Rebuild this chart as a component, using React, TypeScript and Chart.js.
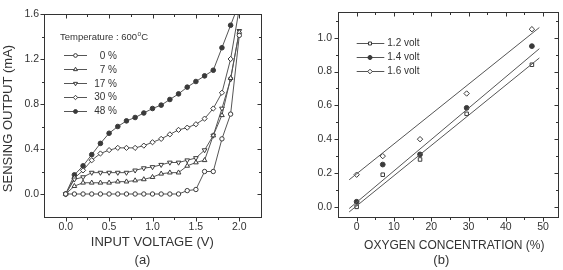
import React, { useEffect, useRef } from "react";
import { Chart, registerables } from "chart.js";
import { drawPoint } from "chart.js/helpers";
Chart.register(...registerables);

// ---------- (a) data ----------
const voltage = [0, 0.1, 0.2, 0.3, 0.4, 0.5, 0.6, 0.7, 0.8, 0.9, 1.0, 1.1, 1.2, 1.3, 1.4, 1.5, 1.6, 1.7, 1.8, 1.9, 2.0];
const o2_0 = [0, 0, 0, 0, 0, 0, 0, 0, 0, 0, 0, 0, 0, 0, 0.03, 0.04, 0.2, 0.2, 0.49, 0.71, 1.41];
const o2_7 = [0, 0.07, 0.1, 0.1, 0.1, 0.1, 0.11, 0.11, 0.12, 0.13, 0.15, 0.18, 0.19, 0.19, 0.25, 0.28, 0.3, 0.52, 0.7, 1.03, 1.44];
const o2_17 = [0, 0.13, 0.15, 0.19, 0.19, 0.19, 0.19, 0.19, 0.21, 0.23, 0.24, 0.26, 0.28, 0.28, 0.3, 0.32, 0.39, 0.52, 0.76, 1.02, 1.45];
const o2_30 = [0, 0.14, 0.21, 0.3, 0.36, 0.39, 0.41, 0.41, 0.41, 0.43, 0.46, 0.49, 0.53, 0.57, 0.59, 0.62, 0.67, 0.76, 0.9, 1.2, 1.65];
const o2_48 = [0, 0.17, 0.25, 0.35, 0.45, 0.54, 0.6, 0.65, 0.68, 0.72, 0.76, 0.79, 0.84, 0.89, 0.95, 1.0, 1.05, 1.1, 1.3, 1.5, 1.7];
const aLegend = ["0 %", "7 %", "17 %", "30 %", "48 %"];
const aXTicks = [0, 0.5, 1.0, 1.5, 2.0];
const aXLabels = ["0.0", "0.5", "1.0", "1.5", "2.0"];
const aXMinor = [0.25, 0.75, 1.25, 1.75];
const aYTicks = [0, 0.4, 0.8, 1.2, 1.6];
const aYLabels = ["0.0", "0.4", "0.8", "1.2", "1.6"];
const aYMinor = [0.2, 0.6, 1.0, 1.4];

// ---------- (b) data ----------
const concentration = [0, 7, 17, 29.5, 47];
const volt12 = [0.0, 0.19, 0.28, 0.55, 0.84];
const volt14 = [0.03, 0.25, 0.31, 0.585, 0.95];
const volt16 = [0.19, 0.3, 0.4, 0.67, 1.05];
const fitX = [-2, 49];
const fit12 = [-0.03, 0.88];
const fit14 = [-0.01, 0.935];
const fit16 = [0.16, 1.06];
const bLegend = ["1.2 volt", "1.4 volt", "1.6 volt"];
const bXTicks = [0, 10, 20, 30, 40, 50];
const bXLabels = ["0", "10", "20", "30", "40", "50"];
const bXMinor = [5, 15, 25, 35, 45];
const bYTicks = [0, 0.2, 0.4, 0.6, 0.8, 1.0];
const bYLabels = ["0.0", "0.2", "0.4", "0.6", "0.8", "1.0"];
const bYMinor = [0.1, 0.3, 0.5, 0.7, 0.9, 1.1];

const FONT = '"Liberation Sans", Arial, sans-serif';
const TXT = "#333";
const LINE = "#555";
const MARK = "#3a3a3a";

type Mk = { pointStyle: string; rotation: number; filled: boolean; radius: number };
const mkA: Mk[] = [
  { pointStyle: "circle", rotation: 0, filled: false, radius: 2.2 },
  { pointStyle: "triangle", rotation: 0, filled: false, radius: 2.7 },
  { pointStyle: "triangle", rotation: 180, filled: false, radius: 2.7 },
  { pointStyle: "rectRot", rotation: 0, filled: false, radius: 2.6 },
  { pointStyle: "circle", rotation: 0, filled: true, radius: 2.3 },
];
const mkB: Mk[] = [
  { pointStyle: "rect", rotation: 0, filled: false, radius: 2.5 },
  { pointStyle: "circle", rotation: 0, filled: true, radius: 2.4 },
  { pointStyle: "rectRot", rotation: 0, filled: false, radius: 2.7 },
];

function pts(xs: number[], ys: number[]) {
  return xs.map((x, i) => ({ x, y: ys[i] }));
}

function markerProps(m: Mk) {
  return {
    pointStyle: m.pointStyle,
    rotation: m.rotation,
    pointRadius: m.radius,
    pointBorderWidth: 1,
    pointBorderColor: MARK,
    pointBackgroundColor: m.filled ? MARK : "#fff",
  };
}

type TextItem = { t: string; x: number; y: number; size: number; rot?: boolean; align?: CanvasTextAlign };
type LegendCfg = {
  title?: { x: number; y: number };
  labels: string[];
  marks: Mk[];
  x1: number;
  x2: number;
  mx: number;
  tx: number;
  talign: CanvasTextAlign;
  ys: number[];
};

function framePlugin(
  id: string,
  xMaj: number[],
  xMin: number[],
  yMaj: number[],
  yMin: number[],
  texts: TextItem[],
  legend: LegendCfg
) {
  return {
    id,
    afterDraw(chart: any) {
      const ctx: CanvasRenderingContext2D = chart.ctx;
      const a = chart.chartArea;
      const xs = chart.scales.x;
      const ys = chart.scales.y;
      ctx.save();
      ctx.strokeStyle = "#333";
      ctx.lineWidth = 1;
      ctx.strokeRect(Math.round(a.left) + 0.5, Math.round(a.top) + 0.5, Math.round(a.right - a.left), Math.round(a.bottom - a.top));
      const L = Math.round(a.left) + 0.5;
      const R = Math.round(a.right) + 0.5;
      const T = Math.round(a.top) + 0.5;
      const B = Math.round(a.bottom) + 0.5;
      ctx.beginPath();
      const xt = (v: number, len: number) => {
        const p = Math.round(xs.getPixelForValue(v)) + 0.5;
        ctx.moveTo(p, B);
        ctx.lineTo(p, B + len);
        ctx.moveTo(p, T);
        ctx.lineTo(p, T + len);
      };
      const yt = (v: number, len: number) => {
        const p = Math.round(ys.getPixelForValue(v)) + 0.5;
        ctx.moveTo(L, p);
        ctx.lineTo(L - len, p);
        ctx.moveTo(R, p);
        ctx.lineTo(R - len, p);
      };
      xMaj.forEach((v) => xt(v, 4));
      xMin.forEach((v) => xt(v, 2.5));
      yMaj.forEach((v) => yt(v, 4));
      yMin.forEach((v) => yt(v, 2.5));
      ctx.stroke();

      ctx.fillStyle = TXT;
      ctx.textBaseline = "middle";
      texts.forEach((t) => {
        ctx.font = `${t.size}px ${FONT}`;
        ctx.textAlign = t.align || "center";
        if (t.rot) {
          ctx.save();
          ctx.translate(t.x, t.y);
          ctx.rotate(-Math.PI / 2);
          ctx.fillText(t.t, 0, 0);
          ctx.restore();
        } else {
          ctx.fillText(t.t, t.x, t.y);
        }
      });

      if (legend.title) {
        ctx.textAlign = "left";
        ctx.font = `9.5px ${FONT}`;
        const s1 = "Temperature : 600";
        ctx.fillText(s1, legend.title.x, legend.title.y);
        let w = ctx.measureText(s1).width;
        ctx.font = `6.5px ${FONT}`;
        ctx.fillText("o", legend.title.x + w + 0.3, legend.title.y - 3);
        w += ctx.measureText("o").width + 0.6;
        ctx.font = `9.5px ${FONT}`;
        ctx.fillText("C", legend.title.x + w, legend.title.y);
      }
      legend.labels.forEach((lab, i) => {
        const y = legend.ys[i];
        ctx.strokeStyle = LINE;
        ctx.lineWidth = 1;
        ctx.beginPath();
        ctx.moveTo(legend.x1, Math.round(y) + 0.5);
        ctx.lineTo(legend.x2, Math.round(y) + 0.5);
        ctx.stroke();
        const m = legend.marks[i];
        ctx.strokeStyle = MARK;
        ctx.fillStyle = m.filled ? MARK : "#fff";
        drawPoint(ctx, { pointStyle: m.pointStyle as any, rotation: m.rotation, radius: m.radius * 0.85, borderWidth: 1 }, legend.mx, Math.round(y) + 0.5);
        ctx.fillStyle = TXT;
        ctx.font = `10px ${FONT}`;
        ctx.textAlign = legend.talign;
        ctx.fillText(lab, legend.tx, y + 0.5);
      });
      ctx.restore();
    },
  };
}

function axisOpts(
  min: number,
  max: number,
  ticks: number[],
  labels: string[],
  size: number,
  isY: boolean,
  pad: number
) {
  return {
    type: "linear",
    min,
    max,
    grid: { display: false, drawTicks: false },
    border: { display: false },
    afterBuildTicks: (s: any) => {
      s.ticks = ticks.map((v) => ({ value: v }));
    },
    afterFit: (s: any) => {
      if (isY) s.width = size;
      else s.height = size;
    },
    ticks: {
      autoSkip: false,
      maxRotation: 0,
      padding: pad,
      color: TXT,
      font: { family: FONT, size: 10.5 },
      callback: (_v: any, i: number) => labels[i],
    },
  };
}

function ChartA() {
  const ref = useRef<HTMLCanvasElement>(null);
  useEffect(() => {
    const series = [o2_0, o2_7, o2_17, o2_30, o2_48];
    const chart = new Chart(ref.current as HTMLCanvasElement, {
      type: "line",
      data: {
        datasets: series.map((s, i) => ({
          label: aLegend[i],
          data: pts(voltage, s),
          borderColor: LINE,
          borderWidth: 1,
          tension: 0,
          fill: false,
          ...markerProps(mkA[i]),
        })) as any,
      },
      options: {
        animation: false,
        responsive: false,
        layout: { padding: { left: 0, top: 14, right: 19, bottom: 0 } },
        plugins: { legend: { display: false }, tooltip: { enabled: false } },
        scales: {
          x: axisOpts(-0.25, 2.25, aXTicks, aXLabels, 53.5, false, 4) as any,
          y: axisOpts(-0.2, 1.6, aYTicks, aYLabels, 44, true, 5) as any,
        },
      },
      plugins: [
        framePlugin(
          "frameA",
          aXTicks,
          aXMinor,
          aYTicks,
          aYMinor,
          [
            { t: "SENSING OUTPUT (mA)", x: 8, y: 118.5, size: 13, rot: true },
            { t: "INPUT VOLTAGE (V)", x: 152.3, y: 242.5, size: 13 },
            { t: "(a)", x: 142.5, y: 260, size: 13 },
          ],
          {
            title: { x: 60, y: 37 },
            labels: aLegend,
            marks: mkA,
            x1: 64,
            x2: 87,
            mx: 75.5,
            tx: 117,
            talign: "right",
            ys: [55.3, 69.3, 83.3, 96.9, 110.7],
          }
        ) as any,
      ],
    });
    return () => chart.destroy();
  }, []);
  return <canvas ref={ref} width={280} height={270} style={{ position: "absolute", left: 0, top: 0 }} />;
}

function ChartB() {
  const ref = useRef<HTMLCanvasElement>(null);
  useEffect(() => {
    const series = [volt12, volt14, volt16];
    const fits = [fit12, fit14, fit16];
    const chart = new Chart(ref.current as HTMLCanvasElement, {
      type: "line",
      data: {
        datasets: [
          ...fits.map((f, i) => ({
            label: bLegend[i] + " fit",
            data: pts(fitX, f),
            borderColor: LINE,
            borderWidth: 1,
            pointRadius: 0,
            tension: 0,
            fill: false,
          })),
          ...series.map((s, i) => ({
            label: bLegend[i],
            data: pts(concentration, s),
            showLine: false,
            ...markerProps(mkB[i]),
          })),
        ] as any,
      },
      options: {
        animation: false,
        responsive: false,
        layout: { padding: { left: 0, top: 10.7, right: 5, bottom: 0 } },
        plugins: { legend: { display: false }, tooltip: { enabled: false } },
        scales: {
          x: axisOpts(-5, 54, bXTicks, bXLabels, 53, false, 4) as any,
          y: axisOpts(-0.06, 1.15, bYTicks, bYLabels, 58, true, 6) as any,
        },
      },
      plugins: [
        framePlugin(
          "frameB",
          bXTicks,
          bXMinor,
          bYTicks,
          bYMinor,
          [
            { t: "OXYGEN CONCENTRATION (%)", x: 174.3, y: 246, size: 12 },
            { t: "(b)", x: 161.3, y: 260, size: 13 },
          ],
          {
            labels: bLegend,
            marks: mkB,
            x1: 76.7,
            x2: 104.3,
            mx: 90,
            tx: 107.3,
            talign: "left",
            ys: [42.7, 56.7, 71],
          }
        ) as any,
      ],
    });
    return () => chart.destroy();
  }, []);
  return <canvas ref={ref} width={283} height={270} style={{ position: "absolute", left: 280, top: 0 }} />;
}

export default function App() {
  return (
    <div style={{ position: "absolute", left: 0, top: 0, width: 563, height: 270, background: "#fff", overflow: "hidden" }}>
      <ChartA />
      <ChartB />
    </div>
  );
}
